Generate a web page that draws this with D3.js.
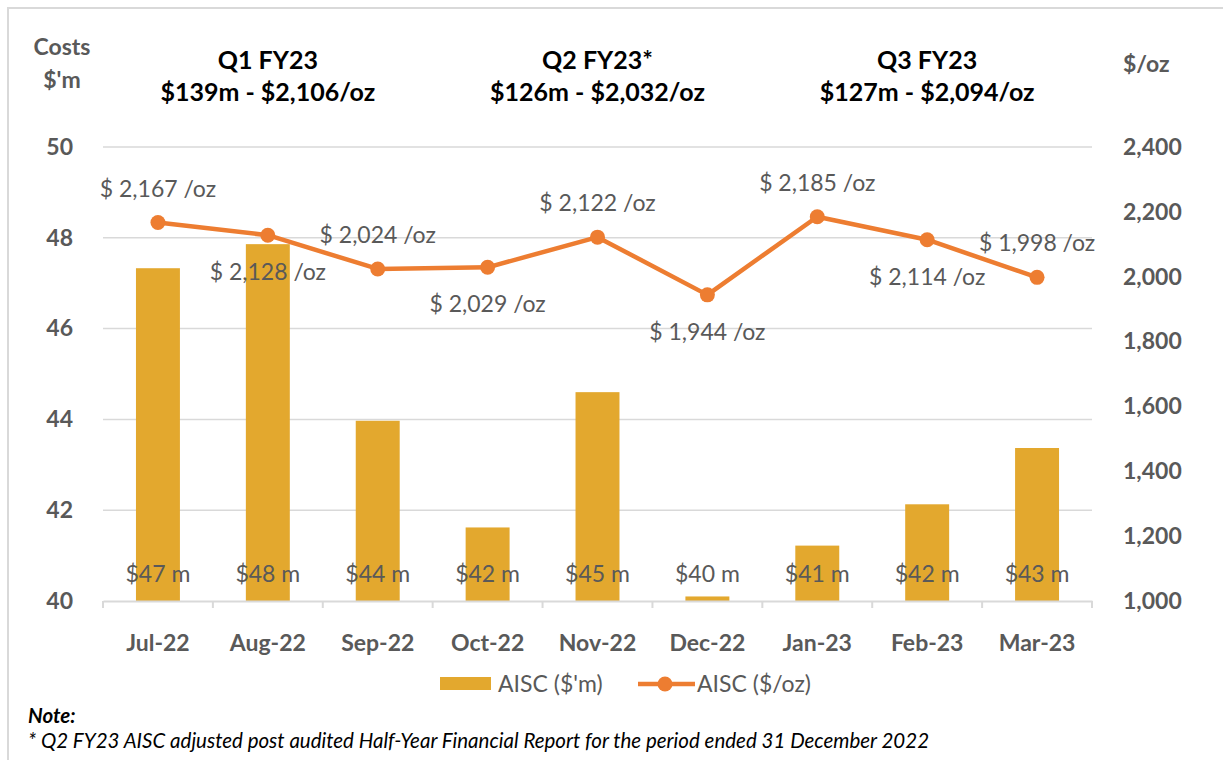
<!DOCTYPE html>
<html lang="en">
<head>
    <meta charset="UTF-8">
    <title>AISC by month</title>
    <script src="https://d3js.org/d3.v7.min.js"></script>
    <style>
        body { margin: 0; background: #fff; }
        text { font-family: Lato, "Open Sans", sans-serif; }
    </style>
</head>
<body>
    <script>
        //Chart data
        var months = ["Jul-22", "Aug-22", "Sep-22", "Oct-22", "Nov-22", "Dec-22", "Jan-23", "Feb-23", "Mar-23"];
        var costM = [47.33, 47.86, 43.97, 41.62, 44.6, 40.1, 41.22, 42.13, 43.37];
        var costOz = [2167, 2128, 2024, 2029, 2122, 1944, 2185, 2114, 1998];
        var leftTicks = [40, 42, 44, 46, 48, 50];
        var rightTicks = [1000, 1200, 1400, 1600, 1800, 2000, 2200, 2400];
        var quarters = ["Q1 FY23", "Q2 FY23*", "Q3 FY23"];
        var quarterTotals = ["$139m - $2,106/oz", "$126m - $2,032/oz", "$127m - $2,094/oz"];

        //SVG dimensions and plot edges
        var w = 1223;
        var h = 760;
        var plotL = 103, plotR = 1092, plotT = 147, plotB = 601;
        var grey = "#595959";
        var gold = "#E3A82E";
        var orange = "#ED7D31";

        var svg = d3.select("body")
            .append("svg")
            .attr("width", w)
            .attr("height", h);

        //Frame (only top and left edges show in the picture)
        svg.append("rect")
            .attr("x", 8).attr("y", 8)
            .attr("width", 1240).attr("height", 800)
            .attr("fill", "none")
            .attr("stroke", "#d9d9d9")
            .attr("stroke-width", 2);

        //Scales
        var band = d3.scaleBand().domain(months).range([plotL, plotR]);
        var xScale = d3.scaleBand()
            .domain(months)
            .range([plotL, plotR])
            .paddingInner(0.6)
            .paddingOuter(0.3);
        var yLeft = d3.scaleLinear().domain([40, 50]).range([plotB, plotT]);
        var yRight = d3.scaleLinear().domain([1000, 2400]).range([plotB, plotT]);
        var cx = function(i) { return band(months[i]) + band.bandwidth() / 2; };

        //Gridlines
        svg.append("g")
            .selectAll("line")
            .data(leftTicks.slice(1))
            .enter()
            .append("line")
            .attr("x1", plotL).attr("x2", plotR)
            .attr("y1", function(d) { return yLeft(d); })
            .attr("y2", function(d) { return yLeft(d); })
            .attr("stroke", "#d9d9d9")
            .attr("stroke-width", 1.5);

        //Left axis
        var leftAxis = svg.append("g")
            .attr("transform", "translate(" + plotL + ",0)")
            .call(d3.axisLeft(yLeft).tickValues(leftTicks).tickSize(0).tickPadding(30));
        leftAxis.select(".domain").remove();
        leftAxis.selectAll("text")
            .attr("fill", grey)
            .style("font-size", "23px")
            .style("font-weight", "bold");

        //Right axis
        var rightAxis = svg.append("g")
            .attr("transform", "translate(" + plotR + ",0)")
            .call(d3.axisRight(yRight).tickValues(rightTicks).tickSize(0).tickPadding(31).tickFormat(d3.format(",")));
        rightAxis.select(".domain").remove();
        rightAxis.selectAll("text")
            .attr("fill", grey)
            .style("font-size", "23px")
            .style("font-weight", "bold");

        //Bars
        svg.append("g")
            .selectAll("rect")
            .data(costM)
            .enter()
            .append("rect")
            .attr("x", function(d, i) { return xScale(months[i]); })
            .attr("y", function(d) { return yLeft(d); })
            .attr("width", xScale.bandwidth())
            .attr("height", function(d) { return plotB - yLeft(d); })
            .attr("fill", gold);

        //Bottom axis
        var xAxis = svg.append("g")
            .attr("transform", "translate(0," + plotB + ")")
            .call(d3.axisBottom(band).tickSize(0).tickPadding(34));
        xAxis.select(".domain")
            .attr("stroke", "#d9d9d9")
            .attr("stroke-width", 2);
        xAxis.selectAll("text")
            .attr("fill", grey)
            .style("font-size", "23px")
            .style("font-weight", "bold");
        xAxis.selectAll(".sep")
            .data(d3.range(months.length + 1))
            .enter()
            .append("line")
            .attr("x1", function(d) { return plotL + d * band.step(); })
            .attr("x2", function(d) { return plotL + d * band.step(); })
            .attr("y1", 0).attr("y2", 7)
            .attr("stroke", "#d9d9d9")
            .attr("stroke-width", 2);

        //Bar labels
        svg.append("g")
            .selectAll("text")
            .data(costM)
            .enter()
            .append("text")
            .attr("x", function(d, i) { return cx(i); })
            .attr("y", plotB - 19)
            .attr("text-anchor", "middle")
            .attr("fill", grey)
            .style("font-size", "23px")
            .text(function(d) { return "$" + Math.round(d) + " m"; });

        //Line
        var line = d3.line()
            .x(function(d, i) { return cx(i); })
            .y(function(d) { return yRight(d); });
        svg.append("path")
            .datum(costOz)
            .attr("d", line)
            .attr("fill", "none")
            .attr("stroke", orange)
            .attr("stroke-width", 4.5)
            .attr("stroke-linejoin", "round");
        svg.append("g")
            .selectAll("circle")
            .data(costOz)
            .enter()
            .append("circle")
            .attr("cx", function(d, i) { return cx(i); })
            .attr("cy", function(d) { return yRight(d); })
            .attr("r", 7.5)
            .attr("fill", orange);

        //Line labels, alternating above / below
        svg.append("g")
            .selectAll("text")
            .data(costOz)
            .enter()
            .append("text")
            .attr("x", function(d, i) { return cx(i); })
            .attr("y", function(d, i) { return yRight(d) + (i % 2 === 0 ? -26 : 45); })
            .attr("text-anchor", "middle")
            .attr("fill", grey)
            .style("font-size", "23px")
            .text(function(d) { return "$ " + d3.format(",")(d) + " /oz"; });

        //Axis titles
        svg.append("text").attr("x", 62).attr("y", 55).attr("text-anchor", "middle")
            .attr("fill", grey).style("font-size", "23px").style("font-weight", "bold").text("Costs");
        svg.append("text").attr("x", 62).attr("y", 88).attr("text-anchor", "middle")
            .attr("fill", grey).style("font-size", "23px").style("font-weight", "bold").text("$'m");
        svg.append("text").attr("x", 1123).attr("y", 72)
            .attr("fill", grey).style("font-size", "23px").style("font-weight", "bold").text("$/oz");

        //Quarter headers, centred over the middle month of each quarter
        quarters.forEach(function(q, i) {
            var x = cx(i * 3 + 1);
            svg.append("text").attr("x", x).attr("y", 69).attr("text-anchor", "middle")
                .attr("fill", "#000").style("font-size", "25px").style("font-weight", "bold").text(q);
            svg.append("text").attr("x", x).attr("y", 101).attr("text-anchor", "middle")
                .attr("fill", "#000").style("font-size", "25px").style("font-weight", "bold").text(quarterTotals[i]);
        });

        //Legend
        var legend = svg.append("g");
        legend.append("rect").attr("x", 440).attr("y", 677).attr("width", 51).attr("height", 13).attr("fill", gold);
        legend.append("text").attr("x", 498).attr("y", 692).attr("fill", grey).style("font-size", "23px").text("AISC ($'m)");
        legend.append("line").attr("x1", 638).attr("x2", 695).attr("y1", 684).attr("y2", 684)
            .attr("stroke", orange).attr("stroke-width", 4.5);
        legend.append("circle").attr("cx", 665).attr("cy", 684).attr("r", 7.5).attr("fill", orange);
        legend.append("text").attr("x", 697).attr("y", 692).attr("fill", grey).style("font-size", "23px").text("AISC ($/oz)");

        //Note
        svg.append("text").attr("x", 28).attr("y", 723)
            .style("font-size", "20.5px").style("font-weight", "bold").style("font-style", "italic").text("Note:");
        svg.append("text").attr("x", 28).attr("y", 748)
            .style("font-size", "20.5px").style("font-style", "italic")
            .text("* Q2 FY23 AISC adjusted post audited Half-Year Financial Report for the period ended 31 December 2022");
    </script>
</body>
</html>
